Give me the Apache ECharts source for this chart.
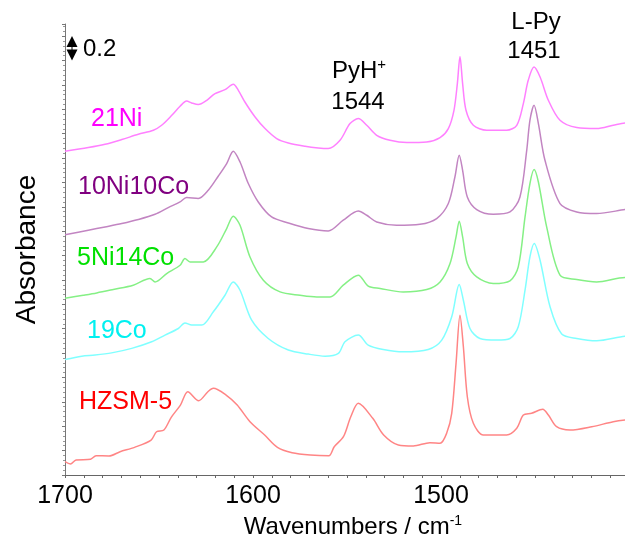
<!DOCTYPE html>
<html>
<head>
<meta charset="utf-8">
<script src="https://cdn.jsdelivr.net/npm/echarts@6/dist/echarts.min.js"></script>
<style>
  html, body { margin: 0; padding: 0; background: #fff; }
  #chart { width: 625px; height: 536px; }
</style>
</head>
<body>
<div id="chart"></div>
<script>
// spectra: [wavenumber, absorbance (stacked with offsets)]
const ni21 = [
  [1700, 2.656], [1687.6, 2.686], [1678.7, 2.713], [1669.8, 2.752], [1661.0, 2.795],
  [1653.0, 2.828], [1648.6, 2.869], [1643.2, 2.951], [1638.8, 3.025], [1635.3, 3.068],
  [1632.6, 3.052], [1629.1, 3.039], [1624.6, 3.074], [1620.2, 3.129], [1614.9, 3.161],
  [1610.5, 3.205], [1607.8, 3.156], [1604.3, 3.060], [1598.9, 2.937], [1593.6, 2.842],
  [1587.4, 2.760], [1581.2, 2.724], [1572.3, 2.697], [1565.3, 2.683], [1560.0, 2.678],
  [1553.7, 2.746], [1548.4, 2.883], [1544.0, 2.924], [1539.5, 2.869], [1534.2, 2.787],
  [1527.1, 2.746], [1518.2, 2.727], [1507.6, 2.732], [1500.5, 2.768], [1496.1, 2.842],
  [1493.1, 2.992], [1491.3, 3.211], [1489.9, 3.434], [1488.5, 3.211], [1486.7, 2.992],
  [1482.8, 2.869], [1475.7, 2.828], [1465.1, 2.828], [1459.7, 2.869], [1456.2, 3.047],
  [1453.6, 3.238], [1450.5, 3.347], [1447.3, 3.265], [1442.9, 3.074], [1436.7, 2.910],
  [1427.8, 2.850], [1417.2, 2.842], [1408.4, 2.869], [1402.1, 2.888], [1400, 2.89]
];
const ni10co10 = [
  [1700, 1.971], [1687.6, 2.008], [1678.7, 2.035], [1669.8, 2.063], [1661.0, 2.096],
  [1652.1, 2.139], [1645.1, 2.194], [1638.8, 2.240], [1635.3, 2.276], [1629.1, 2.268],
  [1623.8, 2.336], [1618.5, 2.451], [1614.0, 2.555], [1610.5, 2.656], [1606.9, 2.568],
  [1602.5, 2.391], [1597.2, 2.240], [1590.1, 2.117], [1581.2, 2.068], [1570.6, 2.022],
  [1560.0, 2.002], [1552.0, 2.090], [1544.0, 2.166], [1539.5, 2.131], [1534.2, 2.076],
  [1523.6, 2.049], [1511.2, 2.057], [1502.3, 2.104], [1496.1, 2.227], [1492.6, 2.445],
  [1490.3, 2.623], [1488.5, 2.500], [1486.0, 2.281], [1481.0, 2.178], [1472.2, 2.139],
  [1463.3, 2.158], [1458.0, 2.281], [1454.4, 2.664], [1452.7, 2.910], [1450.5, 3.033],
  [1448.2, 2.883], [1444.7, 2.582], [1436.7, 2.227], [1427.8, 2.158], [1417.2, 2.145],
  [1402.1, 2.178], [1400, 2.18]
];
const ni5co14 = [
  [1700, 1.451], [1690.3, 1.475], [1683.1, 1.494], [1674.3, 1.522], [1663.7, 1.557],
  [1654.8, 1.612], [1652.1, 1.584], [1645.9, 1.653], [1638.8, 1.721], [1636.2, 1.776],
  [1633.5, 1.748], [1626.4, 1.748], [1619.3, 1.871], [1614.0, 2.022], [1610.5, 2.123],
  [1606.9, 2.049], [1601.6, 1.789], [1594.5, 1.598], [1585.6, 1.502], [1575.0, 1.475],
  [1566.1, 1.461], [1559.0, 1.461], [1552.0, 1.557], [1544.0, 1.639], [1538.7, 1.549],
  [1532.4, 1.530], [1520.1, 1.502], [1507.6, 1.522], [1500.5, 1.584], [1495.2, 1.735],
  [1492.0, 1.953], [1490.3, 2.082], [1488.5, 1.953], [1486.0, 1.735], [1481.0, 1.625],
  [1472.2, 1.571], [1463.3, 1.593], [1458.9, 1.707], [1455.3, 2.117], [1452.7, 2.391],
  [1450.5, 2.506], [1448.2, 2.404], [1443.8, 2.035], [1436.7, 1.639], [1427.8, 1.604],
  [1417.2, 1.584], [1402.1, 1.620], [1400, 1.62]
];
const co19 = [
  [1700, 0.947], [1691.1, 0.975], [1684.0, 0.984], [1675.2, 1.002], [1664.5, 1.039],
  [1653.9, 1.093], [1646.8, 1.148], [1639.7, 1.202], [1636.2, 1.248], [1632.6, 1.230],
  [1627.3, 1.230], [1621.1, 1.339], [1614.9, 1.475], [1610.5, 1.584], [1606.9, 1.516],
  [1600.7, 1.270], [1591.9, 1.120], [1581.2, 1.025], [1570.6, 0.992], [1561.7, 0.975],
  [1554.6, 0.998], [1551.1, 1.093], [1544.0, 1.148], [1538.7, 1.066], [1530.7, 1.030],
  [1520.1, 1.011], [1506.8, 1.030], [1499.6, 1.107], [1494.3, 1.298], [1490.3, 1.563],
  [1488.1, 1.434], [1484.6, 1.202], [1479.3, 1.120], [1470.4, 1.107], [1463.3, 1.120],
  [1458.9, 1.216], [1455.3, 1.516], [1452.7, 1.789], [1450.4, 1.899], [1447.3, 1.762],
  [1442.0, 1.380], [1435.8, 1.156], [1427.8, 1.120], [1417.2, 1.101], [1402.1, 1.139],
  [1400, 1.14]
];
const hzsm5 = [
  [1700, 0.109], [1697.1, 0.090], [1694.1, 0.123], [1686.4, 0.129], [1683.5, 0.158],
  [1676.6, 0.156], [1670.7, 0.191], [1663.0, 0.227], [1654.2, 0.287], [1651.3, 0.355],
  [1647.4, 0.369], [1643.5, 0.473], [1638.6, 0.574], [1634.7, 0.683], [1628.9, 0.609],
  [1624.0, 0.683], [1621.1, 0.711], [1614.3, 0.656], [1608.4, 0.574], [1601.6, 0.437],
  [1593.8, 0.328], [1587.0, 0.227], [1579.2, 0.183], [1569.5, 0.164], [1559.7, 0.158],
  [1556.8, 0.232], [1551.9, 0.314], [1548.0, 0.478], [1544.0, 0.588], [1536.3, 0.465],
  [1530.5, 0.328], [1522.7, 0.246], [1514.7, 0.238], [1505.9, 0.265], [1500.5, 0.260],
  [1497.0, 0.342], [1494.3, 0.506], [1492.0, 0.916], [1489.9, 1.311], [1488.1, 1.052],
  [1486.0, 0.642], [1482.8, 0.424], [1477.5, 0.328], [1471.3, 0.328], [1465.1, 0.328],
  [1459.7, 0.383], [1456.2, 0.492], [1451.8, 0.506], [1445.9, 0.539], [1442.9, 0.492],
  [1438.5, 0.396], [1431.4, 0.369], [1419.8, 0.396], [1408.4, 0.437], [1402.1, 0.451],
  [1400, 0.452]
];

const sampleNames = ['21Ni', '10Ni10Co', '5Ni14Co', '19Co', 'HZSM-5'];
const spectra = [ni21, ni10co10, ni5co14, co19, hzsm5];
const lineColors = ['#ff80ff', '#c285c2', '#85f085', '#80ffff', '#ff8585'];
const labelColors = ['#ff00ff', '#800080', '#00e000', '#00f0f0', '#ff0000'];
const xLabels = [1500, 1600, 1700];

const FONT = '"Liberation Sans", Arial, sans-serif';
const font24 = '24px ' + FONT;
const font25 = '25px ' + FONT;

// sample label positions (left, middle)
const labelPos = [[91, 119], [78, 187], [77, 258], [87, 331], [79, 402]];

const chart = echarts.init(document.getElementById('chart'));

const option = {
  animation: false,
  grid: { left: 65, right: -4, top: 24, bottom: 61, outerBoundsMode: 'none', containLabel: false },
  xAxis: {
    type: 'value',
    inverse: true,
    min: 1400,
    max: 1700,
    interval: 10,
    name: 'Wavenumbers / cm{sup|-1}',
    nameLocation: 'middle',
    nameGap: 35,
    nameTextStyle: {
      color: '#000', fontSize: 24, fontFamily: FONT, padding: [0, 0, 0, 12],
      rich: { sup: { fontSize: 14, fontFamily: FONT, color: '#000', padding: [0, 0, 12, 0] } }
    },
    axisLine: { lineStyle: { color: '#666', width: 1 } },
    axisTick: { length: 3, lineStyle: { color: '#666' } },
    axisLabel: {
      color: '#000', fontSize: 25, fontFamily: FONT, margin: 9,
      formatter: v => (xLabels.includes(v) ? String(v) : '')
    },
    splitLine: { show: false }
  },
  yAxis: {
    type: 'value',
    min: 0,
    max: 3.7,
    interval: 0.2,
    name: 'Absorbance',
    nameLocation: 'middle',
    nameGap: 24,
    nameTextStyle: { color: '#000', fontSize: 28, fontFamily: FONT },
    axisLine: { show: true, lineStyle: { color: '#777', width: 1 } },
    axisTick: { show: true, length: 3, lineStyle: { color: '#777' } },
    minorTick: { show: true, splitNumber: 5, length: 2, lineStyle: { color: '#999' } },
    axisLabel: { show: false },
    splitLine: { show: false }
  },
  series: spectra.map((d, i) => ({
    name: sampleNames[i],
    type: 'line',
    data: d,
    showSymbol: false,
    smooth: 0.3,
    lineStyle: { color: lineColors[i], width: 1.5 },
    z: 2
  })),
  graphic: [
    ...sampleNames.map((n, i) => ({
      type: 'text', x: labelPos[i][0], y: labelPos[i][1],
      style: { text: n, fill: labelColors[i], font: font25, align: 'left', verticalAlign: 'middle',
        textAlign: 'left', textVerticalAlign: 'middle' }
    })),
    {
      type: 'text', x: 359, y: 71,
      style: {
        text: 'PyH{sup|+}', fill: '#000', font: font24, align: 'center', verticalAlign: 'middle',
        textAlign: 'center', textVerticalAlign: 'middle',
        rich: { sup: { font: '15px ' + FONT, fill: '#000', padding: [0, 0, 12, 0] } }
      }
    },
    { type: 'text', x: 358, y: 102, style: { text: '1544', fill: '#000', font: font24, align: 'center', verticalAlign: 'middle', textAlign: 'center', textVerticalAlign: 'middle' } },
    { type: 'text', x: 536, y: 22, style: { text: 'L-Py', fill: '#000', font: font24, align: 'center', verticalAlign: 'middle', textAlign: 'center', textVerticalAlign: 'middle' } },
    { type: 'text', x: 534, y: 51, style: { text: '1451', fill: '#000', font: font24, align: 'center', verticalAlign: 'middle', textAlign: 'center', textVerticalAlign: 'middle' } },
    { type: 'text', x: 83, y: 49, style: { text: '0.2', fill: '#000', font: font24, align: 'left', verticalAlign: 'middle', textAlign: 'left', textVerticalAlign: 'middle' } },
    // scale arrow
    { type: 'polygon', shape: { points: [[72, 36], [66.5, 47], [77.5, 47]] }, style: { fill: '#000' } },
    { type: 'polygon', shape: { points: [[72, 60.5], [66.5, 49.5], [77.5, 49.5]] }, style: { fill: '#000' } },
    { type: 'line', shape: { x1: 72, y1: 44, x2: 72, y2: 52 }, style: { stroke: '#000', lineWidth: 1 } }
  ]
};

chart.setOption(option);
</script>
</body>
</html>
